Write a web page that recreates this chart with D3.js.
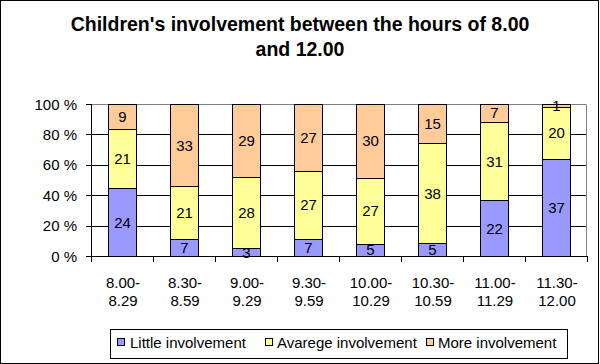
<!DOCTYPE html>
<html><head><meta charset="utf-8">
<script src="https://cdn.jsdelivr.net/npm/d3@7"></script>
<style>body{margin:0;background:#fff}svg{display:block}text{font-family:Arial,"Liberation Sans",sans-serif}</style>
</head><body><svg id="c" width="600" height="364"></svg>
<script>
const categories = [["8.00-","8.29"],["8.30-","8.59"],["9.00-","9.29"],["9.30-","9.59"],["10.00-","10.29"],["10.30-","10.59"],["11.00-","11.29"],["11.30-","12.00"]];
const seriesNames = ["Little involvement","Avarege involvement","More involvement"];
const little = [24,7,3,7,5,5,22,37];
const average = [21,21,28,27,27,38,31,20];
const more = [9,33,29,27,30,15,7,1];
const yTicks = [0,20,40,60,80,100];
const colors = ["#9999FF","#FFFF99","#FFCC99"];

const svg = d3.select("#c");
svg.append("rect").attr("x",0.5).attr("y",0.5).attr("width",598).attr("height",363).attr("fill","#fff").attr("stroke","#000");
const title = svg.append("text").attr("text-anchor","middle").attr("font-size",19.5).attr("font-weight","bold");
title.append("tspan").attr("x",300).attr("y",31).text("Children's involvement between the hours of 8.00");
title.append("tspan").attr("x",300).attr("y",56).text("and 12.00");

const L=91,R=587,T=104,B=256;
const x = d3.scaleBand().domain(d3.range(categories.length)).range([L,R]).paddingInner(0.55).paddingOuter(0.275);
const y = d3.scaleLinear().domain([0,100]).range([B,T]);
const series = [little,average,more];

svg.append("g").selectAll("line").data(yTicks.slice(1,-1)).join("line")
 .attr("x1",L).attr("x2",R).attr("y1",d=>Math.round(y(d))+0.5).attr("y2",d=>Math.round(y(d))+0.5).attr("stroke","#000");
svg.append("path").attr("d",`M${L},${T+0.5}H${R-0.5}V${B}`).attr("fill","none").attr("stroke","#808080");

categories.forEach((c,i)=>{
  const tot = series.reduce((s,a)=>s+a[i],0);
  let acc=0;
  series.forEach((arr,k)=>{
    const v=arr[i];
    const y0=y(acc/tot*100), y1=y((acc+v)/tot*100);
    acc+=v;
    svg.append("rect").attr("x",Math.round(x(i))+0.5).attr("width",Math.round(x.bandwidth()))
      .attr("y",Math.round(y1)+0.5).attr("height",Math.round(y0)-Math.round(y1))
      .attr("fill",colors[k]).attr("stroke","#000");
    svg.append("text").attr("x",x(i)+x.bandwidth()/2+0.5).attr("y",(y0+y1)/2+5.5)
      .attr("text-anchor","middle").attr("font-size",15).text(v);
  });
});

svg.append("line").attr("x1",L+0.5).attr("x2",L+0.5).attr("y1",T).attr("y2",B).attr("stroke","#000");
svg.append("line").attr("x1",L).attr("x2",R).attr("y1",B+0.5).attr("y2",B+0.5).attr("stroke","#000");
yTicks.forEach(t=>{
  svg.append("line").attr("x1",L-5).attr("x2",L).attr("y1",Math.round(y(t))+0.5).attr("y2",Math.round(y(t))+0.5).attr("stroke","#000");
  svg.append("text").attr("x",77).attr("y",y(t)+5.5).attr("text-anchor","end").attr("font-size",15).text(t+" %");
});
const step = x.step();
d3.range(categories.length+1).forEach(i=>{
  const xx=Math.round(L+i*step)+0.5;
  svg.append("line").attr("x1",xx).attr("x2",xx).attr("y1",B).attr("y2",B+6).attr("stroke","#000");
});
categories.forEach((c,i)=>{
  const t=svg.append("text").attr("text-anchor","middle").attr("font-size",15);
  c.forEach((s,j)=>t.append("tspan").attr("x",x(i)+x.bandwidth()/2+1).attr("y",288+j*18).text(s));
});

svg.append("rect").attr("x",110.5).attr("y",329.5).attr("width",457).attr("height",29).attr("fill","#fff").attr("stroke","#000");
const lx=[117,265,426];
const tx=[130,277,438];
seriesNames.forEach((n,k)=>{
  svg.append("rect").attr("x",lx[k]+0.5).attr("y",338.5).attr("width",7).attr("height",7).attr("fill",colors[k]).attr("stroke","#000");
  svg.append("text").attr("x",tx[k]).attr("y",348).attr("font-size",15).text(n);
});
</script></body></html>
